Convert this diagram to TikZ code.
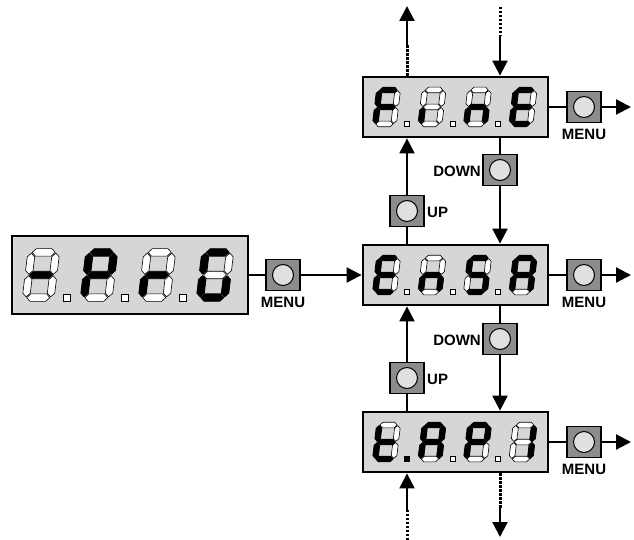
\documentclass[tikz,border=0pt]{standalone}
\usepackage{fontspec}
\setmainfont{Liberation Sans}
\usetikzlibrary{arrows.meta}
\definecolor{dispgray}{RGB}{214,214,214}
\definecolor{btngray}{RGB}{140,140,140}
\definecolor{knobgray}{RGB}{224,224,224}

\def\sg{0.55}\def\st{5.6}\def\ha{12}\def\hb{19.8}
\def\getbits#1#2#3#4#5#6#7\relax{\def\dA{#1}\def\dB{#2}\def\dC{#3}\def\dD{#4}\def\dE{#5}\def\dF{#6}\def\dG{#7}}
\newcommand\hsegdraw[4]{\path[#1] ({#2+\sg},{#4}) -- ({#2+\sg+\st/2},{#4-\st/2}) -- ({#3-\sg-\st/2},{#4-\st/2}) -- ({#3-\sg},{#4}) -- ({#3-\sg-\st/2},{#4+\st/2}) -- ({#2+\sg+\st/2},{#4+\st/2}) -- cycle;}
\newcommand\vsegdraw[4]{\path[#1] ({#2},{#3+\sg}) -- ({#2+\st/2},{#3+\sg+\st/2}) -- ({#2+\st/2},{#4-\sg-\st/2}) -- ({#2},{#4-\sg}) -- ({#2-\st/2},{#4-\sg-\st/2}) -- ({#2-\st/2},{#3+\sg+\st/2}) -- cycle;}
\newcommand\hseg[4]{\ifnum#1=1 \hsegdraw{segon}{#2}{#3}{#4}\else\hsegdraw{segoff}{#2}{#3}{#4}\fi}
\newcommand\vseg[4]{\ifnum#1=1 \vsegdraw{segon}{#2}{#3}{#4}\else\vsegdraw{segoff}{#2}{#3}{#4}\fi}
\newcommand\sdigit[4]{%
  \getbits#4\relax
  \begin{scope}[shift={(#1,#2)}, scale=#3, xslant=0.12]
    \hseg{\dA}{-\ha+\st/2}{\ha-\st/2}{-\hb+\st/2}
    \vseg{\dB}{\ha-\st/2}{-\hb+\st/2}{0}
    \vseg{\dC}{\ha-\st/2}{0}{\hb-\st/2}
    \hseg{\dD}{-\ha+\st/2}{\ha-\st/2}{\hb-\st/2}
    \vseg{\dE}{-\ha+\st/2}{0}{\hb-\st/2}
    \vseg{\dF}{-\ha+\st/2}{-\hb+\st/2}{0}
    \hseg{\dG}{-\ha+\st/2}{\ha-\st/2}{0}
  \end{scope}}
\newcommand\dpt[4]{\path[#4] ({#1-#3/2},{#2-#3/2}) rectangle ({#1+#3/2},{#2+#3/2});}

\tikzset{
  segon/.style={fill=black, draw=black, line width=0.8pt, line join=round},
  segoff/.style={fill=white, draw=black, line width=0.6pt, line join=round},
  dpoff/.style={fill=white, draw=black, line width=0.6pt},
  dpon/.style={fill=black, draw=black, line width=0.6pt},
  disp/.style={draw=black, line width=2.8pt, fill=dispgray, inner sep=0pt},
  btn/.style={draw=black, line width=1.2pt, fill=btngray, minimum width=34pt, minimum height=31pt, inner sep=0pt},
  knob/.style={draw=black, line width=1pt, fill=knobgray, circle, minimum size=21pt, inner sep=0pt},
  conn/.style={line width=2.2pt},
  arr/.style={line width=2.2pt, -{Triangle[width=15pt,length=15pt]}},
  dotl/.style={line width=3pt, dash pattern=on 2.4pt off 1.6pt},
  lbl/.style={font=\bfseries\fontsize{15}{15}\selectfont, inner sep=0pt},
}

\begin{document}
\begin{tikzpicture}[x=1pt,y=-1pt]
\useasboundingbox (0,0) rectangle (634,540);

% displays
\node[disp, minimum width=236pt, minimum height=78pt] (dispL) at (130,275) {};
\node[disp, minimum width=185pt, minimum height=60pt] (dispF) at (455.5,107) {};
\node[disp, minimum width=185pt, minimum height=60pt] (dispE) at (455.5,275) {};
\node[disp, minimum width=185pt, minimum height=60pt] (dispT) at (455.5,442) {};

% left display: -PrG
\sdigit{41}{275}{1.33}{0000001}
\sdigit{99}{275}{1.33}{1100111}
\sdigit{157}{275}{1.33}{0000101}
\sdigit{215}{275}{1.33}{1011110}
\dpt{67}{298}{6.5}{dpoff}
\dpt{125}{298}{6.5}{dpoff}
\dpt{183}{298}{6.5}{dpoff}

% top display: FinE
\sdigit{386.5}{107}{1}{1000111}
\sdigit{432}{107}{1}{0000100}
\sdigit{477.5}{107}{1}{0010101}
\sdigit{523}{107}{1}{1001111}
\dpt{407}{124}{5}{dpoff}
\dpt{452.5}{124}{5}{dpoff}
\dpt{498}{124}{5}{dpoff}

% middle display: EnSA
\sdigit{386.5}{275}{1}{1001111}
\sdigit{432}{275}{1}{0010101}
\sdigit{477.5}{275}{1}{1011011}
\sdigit{523}{275}{1}{1110111}
\dpt{407}{292}{5}{dpoff}
\dpt{452.5}{292}{5}{dpoff}
\dpt{498}{292}{5}{dpoff}

% bottom display: tAP1
\sdigit{386.5}{442}{1}{0001111}
\sdigit{432}{442}{1}{1110111}
\sdigit{477.5}{442}{1}{1100111}
\sdigit{523}{442}{1}{0110000}
\dpt{407}{459}{5.5}{dpon}
\dpt{452.5}{459}{5}{dpoff}
\dpt{498}{459}{5}{dpoff}

% buttons
\node[btn] (menuL) at (283,275) {};
\node[knob] (menuLk) at (menuL) {};
\node[lbl] (menuLt) at (283,302) {MENU};
\node[btn] (menuF) at (584,107) {};
\node[knob] (menuFk) at (menuF) {};
\node[lbl] (menuFt) at (584,134) {MENU};
\node[btn] (menuE) at (584,275) {};
\node[knob] (menuEk) at (menuE) {};
\node[lbl] (menuEt) at (584,302) {MENU};
\node[btn] (menuT) at (584,442) {};
\node[knob] (menuTk) at (menuT) {};
\node[lbl] (menuTt) at (584,469) {MENU};

\node[btn] (downFE) at (500,170) {};
\node[knob] (downFEk) at (downFE) {};
\node[lbl, anchor=east] (downFEt) at (481,171) {DOWN};
\node[btn] (upFE) at (407,211) {};
\node[knob] (upFEk) at (upFE) {};
\node[lbl, anchor=west] (upFEt) at (427,212) {UP};
\node[btn] (downET) at (500,339) {};
\node[knob] (downETk) at (downET) {};
\node[lbl, anchor=east] (downETt) at (481,340) {DOWN};
\node[btn] (upET) at (407,378) {};
\node[knob] (upETk) at (upET) {};
\node[lbl, anchor=west] (upETt) at (427,379) {UP};

% free ends
\coordinate (mFend) at (631,107);
\coordinate (mEend) at (631,275);
\coordinate (mTend) at (631,442);
\coordinate (topL1) at (407,45);
\coordinate (topLend) at (407,6);
\coordinate (topR0) at (500,7);
\coordinate (topR1) at (500,36);
\coordinate (botL0) at (407,540);
\coordinate (botL1) at (407,510);
\coordinate (botR1) at (500,508);
\coordinate (botRend) at (500,537);

% connectors
\draw[conn] (dispL.east) -- (menuL.west);
\draw[arr] (menuL.east) -- (dispE.west);
\draw[conn] (dispF.east) -- (menuF.west);
\draw[arr] (menuF.east) -- (mFend);
\draw[conn] (dispE.east) -- (menuE.west);
\draw[arr] (menuE.east) -- (mEend);
\draw[conn] (dispT.east) -- (menuT.west);
\draw[arr] (menuT.east) -- (mTend);

\draw[arr] (upFE.north) -- (upFE |- dispF.south);
\draw[conn] (upFE.south) -- (upFE |- dispE.north);
\draw[conn] (downFE |- dispF.south) -- (downFE.north);
\draw[arr] (downFE.south) -- (downFE |- dispE.north);

\draw[arr] (upET.north) -- (upET |- dispE.south);
\draw[conn] (upET.south) -- (upET |- dispT.north);
\draw[conn] (downET |- dispE.south) -- (downET.north);
\draw[arr] (downET.south) -- (downET |- dispT.north);

\draw[dotl] (upFE |- dispF.north) -- (topL1);
\draw[arr] (topL1) -- (topLend);
\draw[dotl] (topR0) -- (topR1);
\draw[arr] (topR1) -- (downFE |- dispF.north);

\draw[dotl] (botL0) -- (botL1);
\draw[arr] (botL1) -- (upET |- dispT.south);
\draw[dotl] (downET |- dispT.south) -- (botR1);
\draw[arr] (botR1) -- (botRend);
\end{tikzpicture}
\end{document}
